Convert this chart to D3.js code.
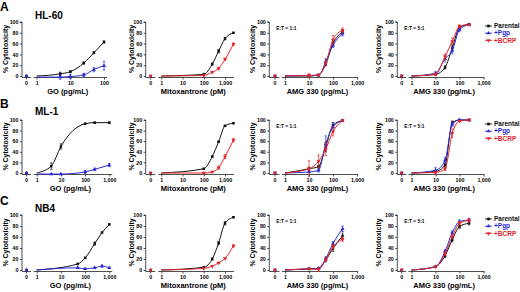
<!DOCTYPE html>
<html lang="en">
<head>
<meta charset="UTF-8">
<script src="https://d3js.org/d3.v7.min.js"></script>
<title>Cytotoxicity panels</title>
<style>
  body { margin: 0; background: #fff; }
  svg { font-family: "Liberation Sans", Arial, sans-serif; font-weight: bold; }
</style>
</head>
<body>
<div id="chart"></div>
<script>
// ---- data ----
const seriesNames = ["Parental", "+Pgp", "+BCRP"];
const seriesColors = ["#111111", "#2b2bd4", "#e3262b"];
const rowTitles = ["HL-60", "ML-1", "NB4"];
const rowLetters = ["A", "B", "C"];
const xTitles = ["GO (pg/mL)", "Mitoxantrone (pM)", "AMG 330 (pg/mL)", "AMG 330 (pg/mL)"];
const etLabels = [null, null, "E:T = 1:1", "E:T = 5:1"];
const yTicks = [0, 20, 40, 60, 80, 100];

// HL-60
const hl60GoDose = [5, 10, 25, 50, 100];
const hl60GoParental = [4, 8, 24, 43, 63];
const hl60GoParentalErr = [3, 2, 2, 2, 2];
const hl60GoPgp = [-2, -1, 2, 12, 19];
const hl60GoPgpErr = [4, 4, 3, 4, 8];

const hl60MitoDose = [100, 250, 500, 1000, 2500];
const hl60MitoParental = [3, 22, 46, 69, 80];
const hl60MitoParentalErr = [2, 2, 3, 2, 1];
const hl60MitoBcrp = [1, 7, 14, 31, 59];
const hl60MitoBcrpErr = [1, 1, 2, 2, 2];

const amgDose = [10, 25, 50, 100, 250];
const hl60Amg11Parental = [0, 2, 22, 60, 82];
const hl60Amg11ParentalErr = [1, 1, 3, 4, 4];
const hl60Amg11Pgp = [1, 1, 27, 57, 79];
const hl60Amg11PgpErr = [1, 1, 5, 4, 5];
const hl60Amg11Bcrp = [1, 2, 24, 67, 85];
const hl60Amg11BcrpErr = [3, 1, 3, 8, 4];

const hl60Amg51Parental = [3, 16, 52, 90, 96];
const hl60Amg51ParentalErr = [1, 3, 5, 3, 1];
const hl60Amg51Pgp = [5, 32, 47, 86, 95];
const hl60Amg51PgpErr = [3, 6, 6, 4, 1];
const hl60Amg51Bcrp = [3, 36, 64, 92, 95];
const hl60Amg51BcrpErr = [2, 5, 6, 3, 1];

// ML-1
const ml1GoDose = [4, 10, 100, 250, 1000];
const ml1GoParental = [13, 50, 93, 95, 95];
const ml1GoParentalErr = [6, 5, 1, 1, 1];
const ml1GoPgp = [-2, -2, 2, 7, 15];
const ml1GoPgpErr = [1, 1, 3, 2, 3];

const ml1MitoDose = [100, 250, 500, 1000, 2500];
const ml1MitoParental = [8, 31, 59, 89, 94];
const ml1MitoParentalErr = [1, 1, 1, 1, 1];
const ml1MitoBcrp = [0, 2, 10, 31, 62];
const ml1MitoBcrpErr = [1, 1, 3, 4, 3];

const ml1Amg11Parental = [8, 12, 50, 90, 99];
const ml1Amg11ParentalErr = [3, 3, 8, 5, 1];
const ml1Amg11Pgp = [2, 5, 55, 87, 99];
const ml1Amg11PgpErr = [2, 3, 15, 8, 1];
const ml1Amg11Bcrp = [8, 22, 45, 78, 99];
const ml1Amg11BcrpErr = [15, 12, 12, 8, 1];

const ml1Amg51Parental = [3, 15, 95, 100, 100];
const ml1Amg51ParentalErr = [2, 3, 3, 1, 1];
const ml1Amg51Pgp = [5, 24, 92, 100, 100];
const ml1Amg51PgpErr = [5, 5, 4, 1, 1];
const ml1Amg51Bcrp = [1, 8, 75, 98, 100];
const ml1Amg51BcrpErr = [1, 3, 8, 1, 1];

// NB4
const nb4GoDose = [50, 100, 250, 500, 1000];
const nb4GoParental = [11, 22, 48, 68, 83];
const nb4GoParentalErr = [1, 1, 3, 1, 1];
const nb4GoPgp = [4, 2, 4, 7, 4];
const nb4GoPgpErr = [1, 1, 1, 2, 1];

const nb4MitoDose = [100, 250, 500, 1000, 2500];
const nb4MitoParental = [5, 20, 49, 85, 96];
const nb4MitoParentalErr = [1, 2, 3, 3, 1];
const nb4MitoBcrp = [3, 7, 13, 21, 44];
const nb4MitoBcrpErr = [1, 1, 1, 1, 2];

const nb4Amg11Parental = [2, 3, 18, 39, 62];
const nb4Amg11ParentalErr = [1, 1, 3, 5, 5];
const nb4Amg11Pgp = [2, 3, 21, 48, 75];
const nb4Amg11PgpErr = [1, 1, 3, 4, 5];
const nb4Amg11Bcrp = [2, 1, 19, 42, 56];
const nb4Amg11BcrpErr = [1, 3, 3, 4, 4];

const nb4Amg51Parental = [6, 26, 55, 79, 85];
const nb4Amg51ParentalErr = [1, 3, 4, 3, 3];
const nb4Amg51Pgp = [6, 34, 68, 88, 91];
const nb4Amg51PgpErr = [1, 3, 3, 3, 3];
const nb4Amg51Bcrp = [6, 30, 61, 85, 90];
const nb4Amg51BcrpErr = [1, 3, 3, 3, 3];

// panel table built from the arrays above: [row][col]
const panelData = [
  [
    { dose: hl60GoDose, series: [[0, hl60GoParental, hl60GoParentalErr], [1, hl60GoPgp, hl60GoPgpErr]] },
    { dose: hl60MitoDose, series: [[0, hl60MitoParental, hl60MitoParentalErr], [2, hl60MitoBcrp, hl60MitoBcrpErr]] },
    { dose: amgDose, series: [[0, hl60Amg11Parental, hl60Amg11ParentalErr], [1, hl60Amg11Pgp, hl60Amg11PgpErr], [2, hl60Amg11Bcrp, hl60Amg11BcrpErr]] },
    { dose: amgDose, series: [[0, hl60Amg51Parental, hl60Amg51ParentalErr], [1, hl60Amg51Pgp, hl60Amg51PgpErr], [2, hl60Amg51Bcrp, hl60Amg51BcrpErr]] }
  ],
  [
    { dose: ml1GoDose, series: [[0, ml1GoParental, ml1GoParentalErr], [1, ml1GoPgp, ml1GoPgpErr]] },
    { dose: ml1MitoDose, series: [[0, ml1MitoParental, ml1MitoParentalErr], [2, ml1MitoBcrp, ml1MitoBcrpErr]] },
    { dose: amgDose, series: [[0, ml1Amg11Parental, ml1Amg11ParentalErr], [1, ml1Amg11Pgp, ml1Amg11PgpErr], [2, ml1Amg11Bcrp, ml1Amg11BcrpErr]] },
    { dose: amgDose, series: [[0, ml1Amg51Parental, ml1Amg51ParentalErr], [1, ml1Amg51Pgp, ml1Amg51PgpErr], [2, ml1Amg51Bcrp, ml1Amg51BcrpErr]] }
  ],
  [
    { dose: nb4GoDose, series: [[0, nb4GoParental, nb4GoParentalErr], [1, nb4GoPgp, nb4GoPgpErr]] },
    { dose: nb4MitoDose, series: [[0, nb4MitoParental, nb4MitoParentalErr], [2, nb4MitoBcrp, nb4MitoBcrpErr]] },
    { dose: amgDose, series: [[0, nb4Amg11Parental, nb4Amg11ParentalErr], [1, nb4Amg11Pgp, nb4Amg11PgpErr], [2, nb4Amg11Bcrp, nb4Amg11BcrpErr]] },
    { dose: amgDose, series: [[0, nb4Amg51Parental, nb4Amg51ParentalErr], [1, nb4Amg51Pgp, nb4Amg51PgpErr], [2, nb4Amg51Bcrp, nb4Amg51BcrpErr]] }
  ]
];

// ---- layout ----
const width = 520, height = 292;
const rows = [
  { y100: 22, y0: 76, letterY: 11, titleY: 18.5 },
  { y100: 120, y0: 173, letterY: 108, titleY: 114.5 },
  { y100: 215, y0: 270, letterY: 205, titleY: 211.5 }
];
const cols = [
  { yAxisX: 22, yTitleX: 5.5, zeroX: 26.5, logX0: 36.7, logX1: 109.3 },
  { yAxisX: 145.7, yTitleX: 132, zeroX: 150.7, logX0: 161.3, logX1: 225, end: 234 },
  { yAxisX: 269.3, yTitleX: 252.5, zeroX: 275, logX0: 285, logX1: 357, end: 358 },
  { yAxisX: 397.3, yTitleX: 378.5, zeroX: 401.7, logX0: 411.5, logX1: 483.5, end: 484.5 }
];

const svg = d3.select("#chart").append("svg")
  .attr("width", width).attr("height", height);

const fmt = d3.format(",");
const symbols = [d3.symbolSquare, d3.symbolTriangle, d3.symbolTriangle];

panelData.forEach((rowPanels, ri) => {
  const r = rows[ri];
  svg.append("text").attr("x", 0).attr("y", r.letterY)
    .attr("font-size", 12).text(rowLetters[ri]);
  svg.append("text").attr("x", 35).attr("y", r.titleY)
    .attr("font-size", 10).text(rowTitles[ri]);

  rowPanels.forEach((p, ci) => {
    const c = cols[ci];
    // first column HL-60 only runs to 100
    const maxDose = (ci === 0 && ri === 0) ? 100 : 1000;
    const x1 = (ci === 0 && ri === 0) ? 104 : c.logX1;
    const axisEnd = c.end || x1 + 3;
    const x = d3.scaleLog().domain([1, maxDose]).range([c.logX0, x1]);
    const y = d3.scaleLinear().domain([0, 100]).range([r.y0, r.y100]);
    const g = svg.append("g");
    const baseY = r.y0 + 1.5;

    // y axis
    const yAxis = d3.axisLeft(y).tickValues(yTicks).tickSize(2).tickPadding(1.5);
    const ya = g.append("g").attr("transform", `translate(${c.yAxisX},0)`).call(yAxis);
    ya.select(".domain").attr("d", `M-2,${r.y100}H0V${baseY}`);
    ya.selectAll("text").attr("font-size", 5.3).attr("font-family", null).attr("font-weight", "bold");
    ya.selectAll("line, path").attr("stroke", "#222").attr("stroke-width", 0.8);

    // x axis: short segment for the zero dose, then the log segment
    g.append("line").attr("x1", c.yAxisX).attr("x2", c.zeroX + 4.5)
      .attr("y1", baseY).attr("y2", baseY).attr("stroke", "#222").attr("stroke-width", 0.8);
    g.append("line").attr("x1", c.zeroX).attr("x2", c.zeroX)
      .attr("y1", baseY).attr("y2", baseY + 2).attr("stroke", "#222").attr("stroke-width", 0.8);
    g.append("text").attr("x", c.zeroX).attr("y", r.y0 + 8.8)
      .attr("text-anchor", "middle").attr("font-size", 5.3).text("0");

    const xTickVals = x.domain()[1] === 100 ? [1, 10, 100] : [1, 10, 100, 1000];
    const xAxis = d3.axisBottom(x).tickValues(xTickVals).tickFormat(fmt).tickSize(2).tickPadding(1.5);
    const xa = g.append("g").attr("transform", `translate(0,${baseY})`).call(xAxis);
    xa.select(".domain").attr("d", `M${c.logX0 - 3},0H${axisEnd}`);
    xa.selectAll("text").attr("font-size", 5.3).attr("font-family", null).attr("font-weight", "bold");
    xa.selectAll("line, path").attr("stroke", "#222").attr("stroke-width", 0.8);

    // titles
    g.append("text").attr("transform", `translate(${c.yTitleX},${(r.y0 + r.y100) / 2}) rotate(-90)`)
      .attr("text-anchor", "middle").attr("dy", "0.35em").attr("font-size", 7).text("% Cytotoxicity");
    g.append("text").attr("x", (c.zeroX + axisEnd) / 2 + 1).attr("y", r.y0 + 17.5)
      .attr("text-anchor", "middle").attr("font-size", 7.5).text(xTitles[ci]);
    if (etLabels[ci]) {
      g.append("text").attr("x", c.yAxisX + 7).attr("y", r.y100 + 8)
        .attr("font-size", 4.8).text(etLabels[ci]);
    }

    // series
    p.series.forEach(([si, vals, errs]) => {
      const color = seriesColors[si];
      const pts = p.dose.map((d, i) => ({ d, v: vals[i], e: errs[i] }));
      const lead = [{ d: 1, v: Math.min(0, vals[0]) }];
      const line = d3.line().x(q => x(q.d)).y(q => y(q.v)).curve(d3.curveMonotoneX);
      g.append("path").datum(lead.concat(pts)).attr("d", line)
        .attr("fill", "none").attr("stroke", color).attr("stroke-width", 1);

      // error bars
      const eb = g.append("g").attr("stroke", color).attr("stroke-width", 0.7);
      pts.forEach(q => {
        const xx = x(q.d), ylo = y(q.v - q.e), yhi = y(q.v + q.e);
        eb.append("line").attr("x1", xx).attr("x2", xx).attr("y1", ylo).attr("y2", yhi);
        eb.append("line").attr("x1", xx - 1.2).attr("x2", xx + 1.2).attr("y1", ylo).attr("y2", ylo);
        eb.append("line").attr("x1", xx - 1.2).attr("x2", xx + 1.2).attr("y1", yhi).attr("y2", yhi);
      });

      // markers, plus the zero-dose point
      const sym = d3.symbol().type(symbols[si]).size(si === 0 ? 6 : 7);
      g.append("path").attr("d", sym).attr("fill", color)
        .attr("transform", `translate(${c.zeroX},${y(0)})` + (si === 2 ? " rotate(180)" : ""));
      pts.forEach(q => {
        g.append("path").attr("d", sym).attr("fill", color)
          .attr("transform", `translate(${x(q.d)},${y(q.v)})` + (si === 2 ? " rotate(180)" : ""));
      });
    });
  });

  // legend at right of each row
  const lg = svg.append("g").attr("transform", `translate(485,${r.y100 + 4})`);
  seriesNames.forEach((name, si) => {
    const yy = si * 7.2;
    lg.append("line").attr("x1", 0).attr("x2", 7).attr("y1", yy).attr("y2", yy)
      .attr("stroke", seriesColors[si]).attr("stroke-width", 0.9);
    lg.append("path").attr("d", d3.symbol().type(symbols[si]).size(7))
      .attr("fill", seriesColors[si])
      .attr("transform", `translate(3.5,${yy})` + (si === 2 ? " rotate(180)" : ""));
    lg.append("text").attr("x", 9).attr("y", yy).attr("dy", "0.35em")
      .attr("font-size", 6.5).attr("fill", seriesColors[si]).text(name);
  });
});
</script>
</body>
</html>
